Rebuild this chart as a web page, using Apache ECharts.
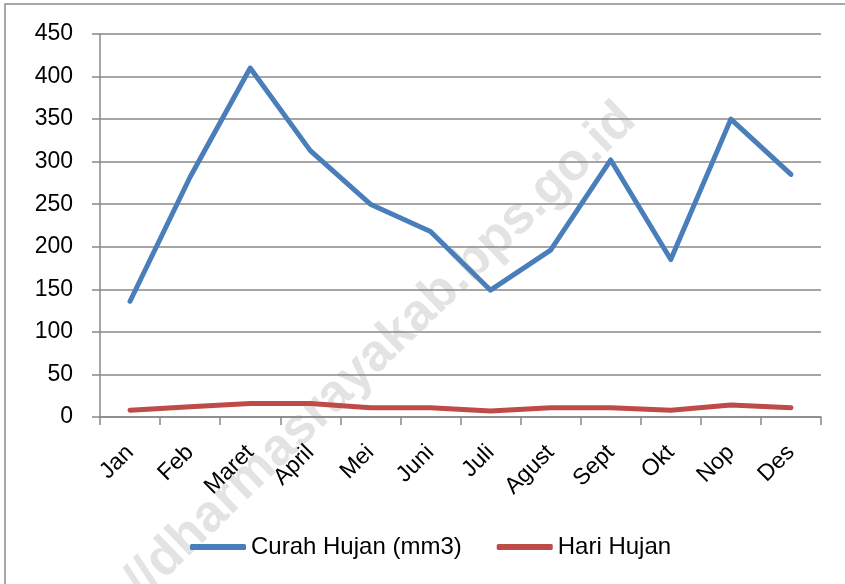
<!DOCTYPE html>
<html>
<head>
<meta charset="utf-8">
<script src="https://cdn.jsdelivr.net/npm/echarts@6/dist/echarts.min.js"></script>
<style>
  html, body { margin: 0; padding: 0; background: #fff; }
  #chart { width: 845px; height: 584px; }
</style>
</head>
<body>
<div id="chart"></div>
<script>
// data
var bulan = ['Jan', 'Feb', 'Maret', 'April', 'Mei', 'Juni', 'Juli', 'Agust', 'Sept', 'Okt', 'Nop', 'Des'];
var curahHujan = [136, 282, 410, 313, 250, 218, 149, 196, 302, 185, 350, 285];
var hariHujan = [8, 12, 16, 16, 11, 11, 7, 11, 11, 8, 14, 11];
var yTicks = [0, 450, 50]; // min, max, interval

var fontName = 'Liberation Sans, Arial, sans-serif';
var axisGray = '#888888';

var chart = echarts.init(document.getElementById('chart'));

var option = {
    backgroundColor: '#ffffff',
    animation: false,
    grid: { left: 100, right: 24, top: 34, bottom: 167 },
    legend: {
        left: 185,
        top: 530,
        itemWidth: 56,
        itemHeight: 6,
        itemGap: 35,
        icon: 'roundRect',
        textStyle: { fontFamily: fontName, fontSize: 24, color: '#000' },
        data: ['Curah Hujan (mm3)', 'Hari Hujan']
    },
    xAxis: {
        type: 'category',
        data: bulan,
        boundaryGap: true,
        axisLine: { lineStyle: { color: axisGray, width: 1.5 } },
        axisTick: { show: true, length: 8, alignWithLabel: false, lineStyle: { color: axisGray, width: 1.5 } },
        axisLabel: {
            rotate: 45,
            margin: 32,
            fontFamily: fontName,
            fontSize: 23,
            color: '#000',
            interval: 0
        }
    },
    yAxis: {
        type: 'value',
        min: yTicks[0],
        max: yTicks[1],
        interval: yTicks[2],
        axisLine: { show: true, lineStyle: { color: axisGray, width: 1.5 } },
        axisTick: { show: true, length: 8, lineStyle: { color: axisGray, width: 1.5 } },
        splitLine: { show: true, lineStyle: { color: axisGray, width: 1.5 } },
        axisLabel: { margin: 27, fontFamily: fontName, fontSize: 23, color: '#000' }
    },
    graphic: [
        {
            type: 'text',
            z: -10,
            x: 628,
            y: 112,
            rotation: 44 * Math.PI / 180,
            style: {
                text: 'https://dharmasrayakab.bps.go.id',
                fontFamily: fontName,
                fontWeight: 'bold',
                fontSize: 52,
                fill: '#e3e3e3',
                textAlign: 'right',
                textVerticalAlign: 'middle'
            }
        },
        {
            type: 'polyline',
            z: 5,
            shape: { points: [[5, 584], [5, 4], [845, 4]] },
            style: { stroke: '#8c8c8c', lineWidth: 1.5, fill: null }
        }
    ],
    series: [
        {
            name: 'Curah Hujan (mm3)',
            type: 'line',
            data: curahHujan,
            symbol: 'none',
            color: '#4a7ebb',
            lineStyle: { width: 5, color: '#4a7ebb', cap: 'round', join: 'round' }
        },
        {
            name: 'Hari Hujan',
            type: 'line',
            data: hariHujan,
            symbol: 'none',
            color: '#be4b48',
            lineStyle: { width: 5, color: '#be4b48', cap: 'round', join: 'round' }
        }
    ]
};

chart.setOption(option);
</script>
</body>
</html>
